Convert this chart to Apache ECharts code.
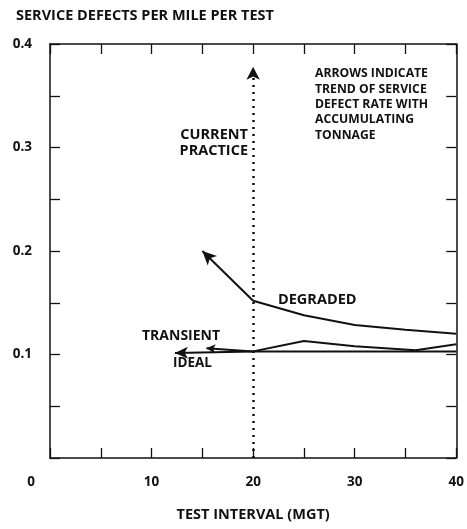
<!DOCTYPE html>
<html>
<head>
<meta charset="utf-8">
<script src="https://cdn.jsdelivr.net/npm/echarts@6/dist/echarts.min.js"></script>
<style>
  html, body { margin: 0; padding: 0; background: #fff; }
  #chart { width: 467px; height: 529px; }
</style>
</head>
<body>
<div id="chart"></div>
<script>
// Test interval (MGT) for each curve's points
const degradedX = [20, 25, 30, 35, 40];
const degradedY = [0.152, 0.138, 0.1285, 0.124, 0.12];
const transientX = [20, 25, 30, 36, 40];
const transientY = [0.103, 0.113, 0.108, 0.104, 0.110];
const idealX = [20, 40];
const idealY = [0.103, 0.103];

// Trend arrows: [fromX, fromY, toX, toY]
const degradedArrow = [20, 0.152, 15, 0.2];
const transientArrow = [20, 0.103, 15.4, 0.106];
const idealArrow = [20, 0.103, 12.3, 0.1015];
const practiceArrow = [20, 0, 20, 0.378];

const xTickLabels = ['0', '10', '20', '30', '40'];
const yTickLabels = ['0.1', '0.2', '0.3', '0.4'];

const FONT = '"Open Sans", "DejaVu Sans", sans-serif';
const INK = '#111';

function pairs(xs, ys) { return xs.map((x, i) => [x, ys[i]]); }
function arrowLine(a) {
  return [[{ coord: [a[0], a[1]] }, { coord: [a[2], a[3]] }]];
}

const chart = echarts.init(document.getElementById('chart'));

const labelFont = { fontFamily: FONT, fontWeight: 'bold', fontSize: 13.5, color: INK };

const baseX = {
  type: 'value', min: 0, max: 40, interval: 5,
  axisLine: { show: true, onZero: false, lineStyle: { color: INK, width: 1.5 } },
  axisTick: { show: true, inside: true, length: 10, lineStyle: { color: INK, width: 1.3 } },
  splitLine: { show: false }
};
const baseY = {
  type: 'value', min: 0, max: 0.4, interval: 0.05,
  axisLine: { show: true, onZero: false, lineStyle: { color: INK, width: 1.5 } },
  axisTick: { show: true, inside: true, length: 10, lineStyle: { color: INK, width: 1.3 } },
  splitLine: { show: false }
};

const lineSeries = (name, data) => ({
  name, type: 'line', data, symbol: 'none', smooth: false,
  lineStyle: { color: INK, width: 2 }, z: 3
});

const arrowMark = (a, size) => ({
  silent: true,
  symbol: ['none', 'arrow'],
  symbolSize: size,
  label: { show: false },
  lineStyle: { color: INK, width: 2, type: 'solid' },
  data: arrowLine(a)
});

chart.setOption({
  animation: false,
  backgroundColor: '#fff',
  title: {
    text: 'SERVICE DEFECTS PER MILE PER TEST',
    left: 11, top: 3,
    textStyle: { fontFamily: FONT, fontWeight: 'bold', fontSize: 14.5, color: INK }
  },
  grid: { left: 50, right: 8, top: 44, bottom: 71 },
  xAxis: [
    Object.assign({}, baseX, {
      position: 'bottom',
      name: 'TEST INTERVAL (MGT)',
      nameLocation: 'middle',
      nameGap: 49,
      nameTextStyle: Object.assign({}, labelFont, { fontSize: 14.5 }),
      axisLabel: Object.assign({}, labelFont, {
        margin: 17,
        formatter: v => {
          const s = String(v);
          if (!xTickLabels.includes(s)) return '';
          return v === 0 ? '{z|' + s + '}' : s;
        },
        rich: { z: Object.assign({}, labelFont, { padding: [0, 38, 0, 0] }) }
      })
    }),
    Object.assign({}, baseX, { position: 'top', axisLabel: { show: false } })
  ],
  yAxis: [
    Object.assign({}, baseY, {
      position: 'left',
      axisLabel: Object.assign({}, labelFont, {
        margin: 18,
        formatter: v => {
          const s = (Math.round(v * 100) / 100).toString();
          return yTickLabels.includes(s) ? s : '';
        }
      })
    }),
    Object.assign({}, baseY, { position: 'right', axisLabel: { show: false } })
  ],
  series: [
    Object.assign(lineSeries('DEGRADED', pairs(degradedX, degradedY)), {
      markLine: arrowMark(degradedArrow, [10, 14])
    }),
    Object.assign(lineSeries('TRANSIENT', pairs(transientX, transientY)), {
      markLine: arrowMark(transientArrow, [7, 9])
    }),
    Object.assign(lineSeries('IDEAL', pairs(idealX, idealY)), {
      markLine: arrowMark(idealArrow, [9, 13])
    }),
    {
      name: 'CURRENT PRACTICE', type: 'line', data: [], symbol: 'none',
      markLine: {
        silent: true,
        symbol: ['none', 'arrow'],
        symbolSize: [10, 13],
        label: { show: false },
        lineStyle: { color: INK, width: 2.5, type: [2, 5] },
        data: arrowLine(practiceArrow)
      }
    }
  ],
  graphic: [
    {
      type: 'text', left: 315, top: 66,
      style: {
        text: 'ARROWS INDICATE\nTREND OF SERVICE\nDEFECT RATE WITH\nACCUMULATING\nTONNAGE',
        font: 'bold 12.2px ' + FONT, fill: INK, lineHeight: 15.4
      }
    },
    {
      type: 'text', right: 467 - 248, top: 127,
      style: {
        text: 'CURRENT\nPRACTICE', textAlign: 'right',
        font: 'bold 14.5px ' + FONT, fill: INK, lineHeight: 16
      }
    },
    {
      type: 'text', left: 278, top: 292,
      style: { text: 'DEGRADED', font: 'bold 14.5px ' + FONT, fill: INK }
    },
    {
      type: 'text', left: 142, top: 329,
      style: { text: 'TRANSIENT', font: 'bold 14px ' + FONT, fill: INK }
    },
    {
      type: 'text', left: 173, top: 356,
      style: { text: 'IDEAL', font: 'bold 13.5px ' + FONT, fill: INK }
    }
  ]
});
</script>
</body>
</html>
